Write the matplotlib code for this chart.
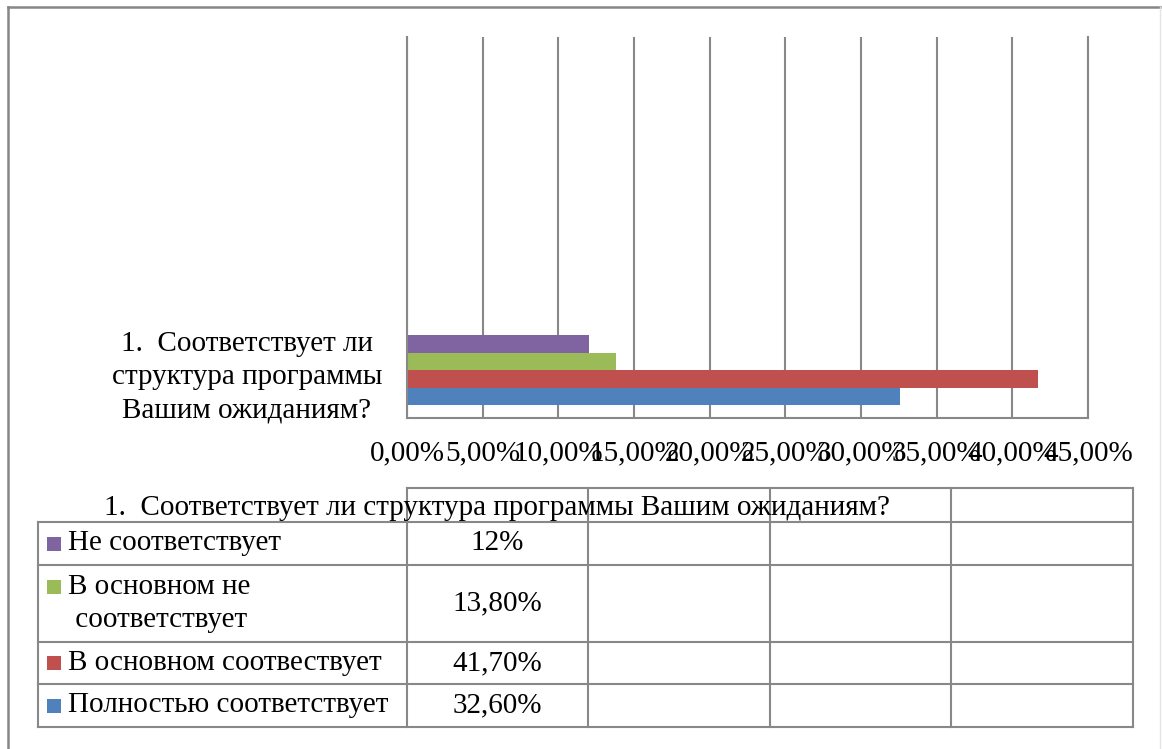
import matplotlib
matplotlib.use('Agg')
import matplotlib.pyplot as plt
import numpy as np
from matplotlib.lines import Line2D
from matplotlib.patches import Rectangle

# ---------------- data ----------------
category_labels = ['1.  Соответствует ли\nструктура программы\nВашим ожиданиям?', '', '', '']
table_header = '1.  Соответствует ли структура программы Вашим ожиданиям?'
series_names = ['Полностью соответствует', 'В основном соотвествует',
                'В основном не\n соответствует', 'Не соответствует']
nan = np.nan
full_match = [0.326, nan, nan, nan]
mostly_match = [0.417, nan, nan, nan]
mostly_not = [0.138, nan, nan, nan]
no_match = [0.12, nan, nan, nan]
table_values = ['32,60%', '41,70%', '13,80%', '12%']
x_ticks = [0.0, 0.05, 0.10, 0.15, 0.20, 0.25, 0.30, 0.35, 0.40, 0.45]
x_tick_labels = ['0,00%', '5,00%', '10,00%', '15,00%', '20,00%', '25,00%',
                 '30,00%', '35,00%', '40,00%', '45,00%']
colors = ['#4F81BD', '#C0504D', '#9BBB59', '#8064A2']

# ---------------- layout ----------------
W, H = 1162, 749
plt.rcParams['font.family'] = ['Liberation Serif', 'DejaVu Serif']
FS = 21
GRID = '#888888'
LS = 1.38


def fx(x):
    return x / W


def fy(y):
    return 1 - y / H


fig = plt.figure(figsize=(W / 100, H / 100), dpi=100)
fig.patch.set_facecolor('white')

ax = fig.add_axes([fx(407), fy(418), (1088 - 407) / W, (418 - 37) / H])
series = [full_match, mostly_match, mostly_not, no_match]
ypos = np.arange(len(category_labels))
bar_h = 0.184
offsets = (np.arange(len(series)) - (len(series) - 1) / 2) * bar_h
for i, vals in enumerate(series):
    ax.barh(ypos + offsets[i], vals, height=bar_h, color=colors[i], zorder=2)

ax.set_xlim(0, 0.45)
ax.set_ylim(-0.5, len(category_labels) - 0.5)
ax.set_xticks(x_ticks)
ax.set_xticklabels(x_tick_labels, fontsize=FS)
ax.tick_params(axis='x', length=0, pad=16)
ax.set_yticks(ypos)
ax.set_yticklabels(category_labels, fontsize=FS, multialignment='center',
                   linespacing=LS)
ax.tick_params(axis='y', length=0, pad=18)
ax.grid(axis='x', color=GRID, lw=1.5, zorder=0)
ax.set_axisbelow(True)
ax.spines['top'].set_visible(False)
for s in ['left', 'bottom', 'right']:
    ax.spines[s].set_color(GRID)
    ax.spines[s].set_linewidth(1.5)


# ---------------- data table ----------------
def hline(y, x0, x1, color=GRID, lw=1.5):
    fig.add_artist(Line2D([fx(x0), fx(x1)], [fy(y), fy(y)], color=color, lw=lw))


def vline(x, y0, y1, color=GRID, lw=1.5):
    fig.add_artist(Line2D([fx(x), fx(x)], [fy(y0), fy(y1)], color=color, lw=lw))


cols = [407, 588, 770, 951, 1133]
rows = [488, 522, 565, 642, 684, 727]
tleft = 37.5

hline(rows[0], cols[0], cols[-1])
for r in rows[1:]:
    hline(r, tleft, cols[-1])
for c in cols:
    vline(c, rows[0], rows[-1])
vline(tleft, rows[1], rows[-1])

c0 = (cols[0] + cols[1]) / 2
fig.text(fx(c0), fy((rows[0] + rows[1]) / 2 + 3), table_header, fontsize=FS,
         ha='center', va='center')

n = len(series)
for k in range(n):
    si = n - 1 - k  # top row = last series
    r0, r1 = rows[k + 1], rows[k + 2]
    rc = (r0 + r1) / 2
    fig.text(fx(c0), fy(rc), table_values[si], fontsize=FS, ha='center', va='center')
    name = series_names[si]
    fig.text(fx(68), fy(rc), name, fontsize=FS, ha='left', va='center', linespacing=LS)
    nlines = name.count('\n') + 1
    key_c = rc - (nlines - 1) * 17
    fig.add_artist(Rectangle((fx(47), fy(key_c + 7)), 14 / W, 14 / H,
                             transform=fig.transFigure, color=colors[si], lw=0))

# ---------------- outer frame ----------------
fig.add_artist(Line2D([fx(8), fx(8)], [fy(7), fy(749)], color='#868686', lw=1.8))
fig.add_artist(Line2D([fx(8), fx(1160)], [fy(7), fy(7)], color='#868686', lw=1.8))
fig.add_artist(Line2D([fx(1160), fx(1160)], [fy(7), fy(749)], color='#e4e4e4', lw=1.0))

fig.savefig('out.png', dpi=100, facecolor='white')
